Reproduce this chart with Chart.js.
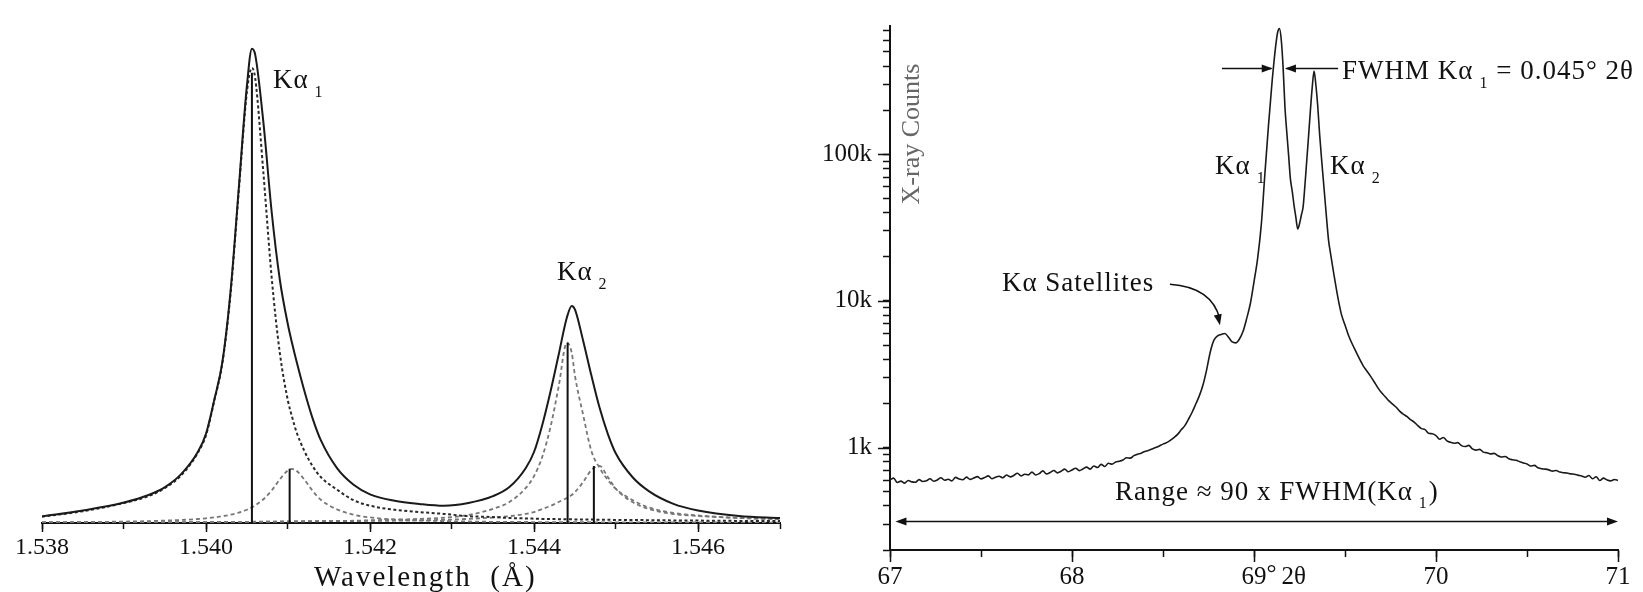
<!DOCTYPE html>
<html>
<head>
<meta charset="utf-8">
<title>Cu Kα emission profile and Kα doublet scan</title>
<script src="https://cdn.jsdelivr.net/npm/chart.js@4.4.1/dist/chart.umd.min.js"></script>
<style>
  html, body { margin: 0; padding: 0; background: #fff; }
  body { width: 1643px; height: 592px; position: relative; overflow: hidden; }
  canvas { position: absolute; top: 0; }
  #profile { left: 0; }
  #scan { left: 800px; }
</style>
</head>
<body>
<canvas id="profile" width="800" height="592"></canvas>
<canvas id="scan" width="843" height="592"></canvas>
<script>
// ---- left panel: emission profile vs wavelength (relative intensity, Ka11 = 100) ----
var wavelength = [1.5380, 1.5385, 1.5390, 1.5393, 1.5395, 1.5397, 1.5399, 1.5400, 1.5401, 1.5402,
    1.5403, 1.5404, 1.5405, 1.54056, 1.5406, 1.5407, 1.5408, 1.5409, 1.5410, 1.54105,
    1.5411, 1.5412, 1.5413, 1.5414, 1.5416, 1.5418, 1.5420, 1.5423, 1.5426, 1.5429,
    1.5432, 1.5435, 1.5437, 1.5439, 1.5440, 1.5441, 1.5442, 1.5443, 1.5444, 1.54446,
    1.5445, 1.5446, 1.5447, 1.5448, 1.5449, 1.5450, 1.5452, 1.5454, 1.5457, 1.5460,
    1.5465, 1.5470];
var totalProfile = [1.43, 2.75, 4.5, 6.15, 7.9, 10.8, 15.6, 19.6, 27.0, 35.4,
    51.0, 73.6, 96.3, 104.2, 102.9, 88.0, 68.5, 53.5, 43.5, 39.5,
    35.8, 29.0, 23.0, 18.2, 12.0, 8.4, 6.3, 4.9, 4.2, 3.8,
    4.4, 5.9, 7.9, 12.1, 15.6, 21.5, 28.8, 36.9, 45.1, 47.7,
    46.9, 40.0, 32.4, 25.3, 19.6, 15.2, 10.1, 7.0, 4.2, 2.75,
    1.54, 1.1];
var ka11 = [1.4, 2.6, 4.4, 5.9, 7.7, 10.5, 15.4, 19.3, 26.8, 35.2,
    50.5, 73.0, 94.9, 100, 97.7, 76.9, 54.1, 37.4, 26.8, 23.3,
    20.2, 15.8, 12.5, 10.1, 7.3, 5.0, 3.8, 2.9, 2.4, 2.0,
    1.5, 1.3, 1.1, 1.0, 0.95, 0.9, 0.88, 0.84, 0.81, 0.8,
    0.79, 0.77, 0.75, 0.73, 0.7, 0.68, 0.66, 0.62, 0.57, 0.53,
    0.46, 0.42];
var ka12 = [0.18, 0.22, 0.31, 0.42, 0.53, 0.66, 0.88, 1.03, 1.23, 1.49,
    1.82, 2.29, 2.92, 3.43, 3.85, 5.21, 7.12, 9.58, 11.58, 11.87,
    11.54, 9.52, 7.08, 5.10, 2.97, 1.82, 1.23, 0.77, 0.55, 0.42,
    0.33, 0.26, 0.24, 0.22, 0.21, 0.2, 0.19, 0.19, 0.18, 0.18,
    0.18, 0.16, 0.16, 0.15, 0.15, 0.15, 0.14, 0.13, 0.12, 0.11,
    0.1, 0.09];
var ka21 = [0.1, 0.12, 0.14, 0.15, 0.16, 0.17, 0.19, 0.2, 0.21, 0.22,
    0.23, 0.24, 0.25, 0.26, 0.26, 0.27, 0.28, 0.3, 0.31, 0.32,
    0.33, 0.35, 0.37, 0.39, 0.44, 0.5, 0.6, 0.75, 0.9, 1.15,
    1.75, 3.1, 4.6, 7.7, 10.3, 14.5, 21.0, 29.9, 39.6, 37.4,
    32.3, 23.7, 15.8, 12.1, 9.45, 7.47, 5.05, 3.41, 2.2, 1.65,
    1.1, 0.84];
var ka22 = [0.09, 0.11, 0.13, 0.15, 0.16, 0.18, 0.2, 0.21, 0.22, 0.23,
    0.24, 0.25, 0.26, 0.27, 0.29, 0.3, 0.31, 0.33, 0.34, 0.35,
    0.36, 0.38, 0.41, 0.43, 0.4, 0.42, 0.46, 0.5, 0.58, 0.7,
    0.9, 1.2, 1.5, 2.0, 2.4, 3.08, 3.74, 4.62, 5.49, 6.15,
    6.81, 9.01, 11.65, 12.53, 10.11, 7.47, 4.62, 3.08, 1.98, 1.54,
    1.1, 0.84];
var stickPos = [1.54056, 1.54102, 1.54441, 1.54473];
var stickHeight = [98.9, 11.9, 39.6, 12.5];
var wavelengthTicks = [1.538, 1.539, 1.540, 1.541, 1.542, 1.543, 1.544, 1.545, 1.546, 1.547];
var wavelengthLabels = ['1.538', '', '1.540', '', '1.542', '', '1.544', '', '1.546', ''];

// ---- right panel: measured scan, counts vs 2-theta ----
var twoTheta = [67.00, 67.02, 67.04, 67.06, 67.08, 67.10, 67.12, 67.14, 67.16, 67.18,
    67.20, 67.22, 67.24, 67.26, 67.28, 67.30, 67.32, 67.34, 67.36, 67.38,
    67.40, 67.42, 67.44, 67.46, 67.48, 67.50, 67.52, 67.54, 67.56, 67.58,
    67.60, 67.62, 67.64, 67.66, 67.68, 67.70, 67.72, 67.74, 67.76, 67.78,
    67.80, 67.82, 67.84, 67.86, 67.88, 67.90, 67.92, 67.94, 67.96, 67.98,
    68.00, 68.02, 68.04, 68.06, 68.08, 68.10, 68.12, 68.14, 68.16, 68.18,
    68.20, 68.22, 68.24, 68.26, 68.28, 68.30, 68.32, 68.34, 68.36, 68.38,
    68.40, 68.42, 68.44, 68.46, 68.48, 68.50, 68.52, 68.54, 68.56, 68.58,
    68.60, 68.62, 68.64, 68.66, 68.68, 68.70, 68.72, 68.74, 68.76, 68.78,
    68.80, 68.82, 68.84, 68.86, 68.88, 68.90, 68.92, 68.94, 68.96, 68.98,
    69.00, 69.02, 69.04, 69.06, 69.08, 69.10, 69.11, 69.12, 69.13, 69.14,
    69.15, 69.16, 69.17, 69.18, 69.19, 69.20, 69.21, 69.22, 69.23, 69.24,
    69.25, 69.26, 69.27, 69.28, 69.29, 69.30, 69.31, 69.32, 69.33, 69.34,
    69.35, 69.36, 69.37, 69.38, 69.39, 69.40, 69.41, 69.42, 69.44, 69.46,
    69.48, 69.50, 69.52, 69.55,
    69.60, 69.62, 69.64, 69.66, 69.68, 69.70, 69.72, 69.74, 69.76, 69.78,
    69.80, 69.82, 69.84, 69.86, 69.88, 69.90, 69.92, 69.94, 69.96, 69.98,
    70.00, 70.02, 70.04, 70.06, 70.08, 70.10, 70.12, 70.14, 70.16, 70.18,
    70.20, 70.22, 70.24, 70.26, 70.28, 70.30, 70.32, 70.34, 70.36, 70.38,
    70.40, 70.42, 70.44, 70.46, 70.48, 70.50, 70.52, 70.54, 70.56, 70.58,
    70.60, 70.62, 70.64, 70.66, 70.68, 70.70, 70.72, 70.74, 70.76, 70.78,
    70.80, 70.82, 70.84, 70.86, 70.88, 70.90, 70.92, 70.94, 70.96, 70.98,
    71.00];
var counts = [603, 618, 578, 590, 572, 596, 583, 580, 604, 586,
    593, 612, 589, 601, 622, 598, 607, 592, 626, 610,
    603, 628, 606, 619, 633, 611, 624, 641, 612, 628,
    637, 622, 650, 631, 644, 668, 640, 657, 651, 679,
    650, 664, 693, 661, 676, 697, 672, 689, 712, 684,
    703, 722, 696, 714, 735, 712, 748, 730, 768, 742,
    782, 770, 797, 806, 822, 851, 846, 880, 901, 915,
    940, 955, 978, 1000, 1025, 1055, 1080, 1118, 1170, 1230,
    1320, 1410, 1560, 1740, 1980, 2260, 2680, 3400, 4500, 5400,
    5780, 5900, 6000, 5650, 5250, 5170, 5500, 6200, 7600, 9600,
    13500, 19500, 33000, 74000, 160000, 320000, 430000, 560000, 680000, 720000,
    600000, 390000, 210000, 142000, 99000, 68000, 56000, 44900, 37200, 31000,
    33600, 38400, 44000, 62000, 91000, 134000, 200000, 287000, 370000, 297000,
    215000, 140000, 97000, 69000, 49200, 35000, 25700, 21300, 14900, 10700,
    8130, 6850, 5780, 4780,
    3610, 3330, 3070, 2810, 2560, 2370, 2230, 2090, 1985, 1890,
    1770, 1690, 1630, 1550, 1490, 1410, 1345, 1325, 1250, 1240,
    1205, 1140, 1170, 1110, 1085, 1070, 1080, 1030, 1015, 1035,
    978, 960, 972, 930, 921, 905, 912, 878, 862, 869,
    838, 825, 818, 800, 785, 772, 748, 755, 728, 716,
    712, 704, 690, 697, 680, 673, 670, 661, 657, 648,
    640, 627, 645, 612, 632, 596, 618, 600, 592, 605,
    597];
var thetaTicks = [67, 67.5, 68, 68.5, 69, 69.5, 70, 70.5, 71];
var thetaLabels = ['67', '', '68', '', '69', '', '70', '', '71'];
var countTicks = [200, 300, 400, 500, 600, 700, 800, 900,
    1000, 2000, 3000, 4000, 5000, 6000, 7000, 8000, 9000,
    10000, 20000, 30000, 40000, 50000, 60000, 70000, 80000, 90000,
    100000, 200000, 300000, 400000, 500000, 600000, 700000];
var countMajorTicks = [1000, 10000, 100000];
var countMajorLabels = ['1k', '10k', '100k'];

var SERIF = '"Liberation Serif", "Times New Roman", "DejaVu Serif", serif';
var INK = '#111';

Chart.defaults.font.family = SERIF;
Chart.defaults.color = INK;

function fontOf(size) {
    return size + 'px ' + SERIF;
}

function points(xs, ys) {
    return xs.map(function (x, i) {
        return { x: x, y: ys[i] };
    });
}

// K-alpha with a subscript index; returns x of the end of the text
function drawKalpha(ctx, x, y, sub, size) {
    ctx.font = fontOf(size);
    ctx.textAlign = 'left';
    ctx.textBaseline = 'middle';
    ctx.fillText('Kα', x, y);
    var w = ctx.measureText('Kα').width;
    var sx = x + w + size * 0.22;
    ctx.font = fontOf(Math.round(size * 0.6));
    ctx.fillText(sub, sx, y + size * 0.42);
    return sx + ctx.measureText(sub).width;
}

function arrowHead(ctx, x, y, angle, len, half) {
    var c = Math.cos(angle), s = Math.sin(angle);
    ctx.beginPath();
    ctx.moveTo(x, y);
    ctx.lineTo(x - len * c + half * s, y - len * s - half * c);
    ctx.lineTo(x - len * c - half * s, y - len * s + half * c);
    ctx.closePath();
    ctx.fill();
}

// longer tick marks for the labelled values
var majorTicks = {
    id: 'majorTicks',
    afterDraw: function (chart, args, opts) {
        var ctx = chart.ctx;
        var area = chart.chartArea;
        ctx.save();
        ctx.strokeStyle = INK;
        ctx.lineWidth = 1.5;
        (opts.x || []).forEach(function (v) {
            var px = Math.round(chart.scales.x.getPixelForValue(v)) + 0.5;
            ctx.beginPath();
            ctx.moveTo(px, area.bottom);
            ctx.lineTo(px, area.bottom + opts.length);
            ctx.stroke();
        });
        (opts.y || []).forEach(function (v) {
            var py = Math.round(chart.scales.y.getPixelForValue(v)) + 0.5;
            ctx.beginPath();
            ctx.moveTo(area.left - opts.length, py);
            ctx.lineTo(area.left, py);
            ctx.stroke();
        });
        ctx.restore();
    }
};

var profileNotes = {
    id: 'profileNotes',
    afterDraw: function (chart) {
        var ctx = chart.ctx;
        var xs = chart.scales.x, ys = chart.scales.y;
        var area = chart.chartArea;
        ctx.save();
        ctx.fillStyle = INK;
        ctx.letterSpacing = '1px';
        drawKalpha(ctx, xs.getPixelForValue(1.540817), ys.getPixelForValue(97.1), '1', 27);
        drawKalpha(ctx, xs.getPixelForValue(1.544280), ys.getPixelForValue(54.9), '2', 27);
        ctx.letterSpacing = '2px';
        ctx.font = fontOf(29);
        ctx.textAlign = 'left';
        ctx.textBaseline = 'middle';
        ctx.fillText('Wavelength  (Å)', area.left + 272, area.bottom + 55);
        ctx.restore();
    }
};

var scanNotes = {
    id: 'scanNotes',
    afterDraw: function (chart) {
        var ctx = chart.ctx;
        var xs = chart.scales.x, ys = chart.scales.y;
        var area = chart.chartArea;
        function px(v) { return xs.getPixelForValue(v); }
        function py(v) { return ys.getPixelForValue(v); }
        ctx.save();
        ctx.fillStyle = INK;
        ctx.strokeStyle = INK;
        ctx.lineWidth = 1.6;

        // FWHM arrows and label
        var fy = Math.round(py(390000)) + 0.5;
        ctx.beginPath();
        ctx.moveTo(px(68.824), fy);
        ctx.lineTo(px(69.095), fy);
        ctx.moveTo(px(69.178), fy);
        ctx.lineTo(px(69.462), fy);
        ctx.stroke();
        arrowHead(ctx, px(69.103), fy, 0, 11, 4);
        arrowHead(ctx, px(69.170), fy, Math.PI, 11, 4);

        ctx.letterSpacing = '1px';
        var tx = px(69.484), ty = py(363000);
        ctx.font = fontOf(27);
        ctx.textAlign = 'left';
        ctx.textBaseline = 'middle';
        ctx.fillText('FWHM', tx, ty);
        tx += ctx.measureText('FWHM ').width;
        tx = drawKalpha(ctx, tx, ty, '1', 27);
        ctx.font = fontOf(27);
        ctx.fillText(' = 0.045° 2θ', tx, ty);

        drawKalpha(ctx, px(68.786), py(81900), '1', 27);
        drawKalpha(ctx, px(69.418), py(81900), '2', 27);

        // satellites label and curved arrow
        ctx.font = fontOf(27);
        ctx.fillText('Kα Satellites', px(67.615), py(12980));
        var sx = px(68.538), sy = py(12980);
        var cx = px(68.770), cy = py(12400);
        var ex = px(68.813), ey = py(6810);
        ctx.beginPath();
        ctx.moveTo(sx, sy);
        ctx.quadraticCurveTo(cx, cy, ex, ey - 6);
        ctx.stroke();
        arrowHead(ctx, ex, ey, Math.atan2(ey - cy, ex - cx), 11, 4);

        // range arrow and label
        var ry = Math.round(py(316)) + 0.5;
        ctx.beginPath();
        ctx.moveTo(px(67.03) + 6, ry);
        ctx.lineTo(px(71.0) - 6, ry);
        ctx.stroke();
        arrowHead(ctx, px(67.03), ry, Math.PI, 11, 4);
        arrowHead(ctx, px(71.0), ry, 0, 11, 4);

        var rx = px(68.236), rly = py(494);
        ctx.font = fontOf(27);
        ctx.fillText('Range ≈ 90 x FWHM(', rx, rly);
        rx += ctx.measureText('Range ≈ 90 x FWHM(').width;
        rx = drawKalpha(ctx, rx, rly, '1', 27);
        ctx.font = fontOf(27);
        ctx.fillText(')', rx + 1, rly);

        // degree / 2-theta suffix after the 69 tick label
        ctx.letterSpacing = '0px';
        ctx.font = fontOf(25);
        var lx = px(69) + ctx.measureText('69').width / 2;
        ctx.fillText('°', lx, area.bottom + 24);
        ctx.fillText('2θ', lx + 15, area.bottom + 27);

        // y-axis caption inside the plot
        ctx.fillStyle = '#666';
        ctx.font = fontOf(26);
        ctx.textAlign = 'center';
        ctx.translate(area.left + 22, area.top + 108);
        ctx.rotate(-Math.PI / 2);
        ctx.fillText('X-ray Counts', 0, 0);
        ctx.restore();
    }
};

function tickSetter(values) {
    return function (scale) {
        scale.ticks = values.map(function (v) {
            return { value: v };
        });
    };
}

var profileDatasets = [
    { label: 'Total', data: points(wavelength, totalProfile), borderColor: '#1a1a1a', borderWidth: 2 },
    { label: 'Lines', data: stickPos.reduce(function (acc, x, i) {
        acc.push({ x: x, y: 0 }, { x: x, y: stickHeight[i] }, { x: x, y: null });
        return acc;
    }, []), borderColor: INK, borderWidth: 2, cubicInterpolationMode: 'default', tension: 0 },
    { label: 'Ka11', data: points(wavelength, ka11), borderColor: '#2a2a2a', borderWidth: 2, borderDash: [3, 2.5] },
    { label: 'Ka12', data: points(wavelength, ka12), borderColor: '#777', borderWidth: 1.8, borderDash: [4, 3] },
    { label: 'Ka21', data: points(wavelength, ka21), borderColor: '#777', borderWidth: 1.8, borderDash: [4, 3] },
    { label: 'Ka22', data: points(wavelength, ka22), borderColor: '#777', borderWidth: 1.8, borderDash: [4, 3] }
];

new Chart(document.getElementById('profile'), {
    type: 'line',
    data: { datasets: profileDatasets },
    plugins: [majorTicks, profileNotes],
    options: {
        responsive: false,
        animation: false,
        events: [],
        layout: { padding: { top: 36, left: 42, right: 20, bottom: 0 } },
        elements: {
            point: { radius: 0 },
            line: { cubicInterpolationMode: 'monotone', fill: false }
        },
        plugins: {
            legend: { display: false },
            tooltip: { enabled: false },
            majorTicks: { x: [1.538, 1.540, 1.542, 1.544, 1.546], length: 9 }
        },
        scales: {
            x: {
                type: 'linear',
                min: 1.538,
                max: 1.547,
                afterBuildTicks: tickSetter(wavelengthTicks),
                afterFit: function (scale) { scale.height = 69; },
                grid: { drawOnChartArea: false, tickLength: 6, tickWidth: 1.5, tickColor: INK },
                border: { display: true, color: INK, width: 2 },
                ticks: {
                    autoSkip: false,
                    maxRotation: 0,
                    padding: 4,
                    font: { size: 24 },
                    color: INK,
                    callback: function (value, index) {
                        return wavelengthLabels[index];
                    }
                }
            },
            y: {
                type: 'linear',
                display: false,
                min: 0,
                max: 107
            }
        }
    }
});

new Chart(document.getElementById('scan'), {
    type: 'line',
    data: {
        datasets: [{
            label: 'Counts',
            data: points(twoTheta, counts),
            borderColor: '#1a1a1a',
            borderWidth: 1.6
        }]
    },
    plugins: [majorTicks, scanNotes],
    options: {
        responsive: false,
        animation: false,
        events: [],
        layout: { padding: { top: 15, left: 0, right: 25, bottom: 0 } },
        elements: {
            point: { radius: 0 },
            line: { cubicInterpolationMode: 'monotone', fill: false }
        },
        plugins: {
            legend: { display: false },
            tooltip: { enabled: false },
            majorTicks: { x: [67, 68, 69, 70, 71], y: countMajorTicks, length: 12 }
        },
        scales: {
            x: {
                type: 'linear',
                min: 67,
                max: 71,
                afterBuildTicks: tickSetter(thetaTicks),
                afterFit: function (scale) { scale.height = 42; },
                grid: { drawOnChartArea: false, tickLength: 7, tickWidth: 1.5, tickColor: INK },
                border: { display: true, color: INK, width: 2 },
                ticks: {
                    autoSkip: false,
                    maxRotation: 0,
                    padding: 5,
                    font: { size: 25 },
                    color: INK,
                    callback: function (value, index) {
                        return thetaLabels[index];
                    }
                }
            },
            y: {
                type: 'logarithmic',
                min: 200,
                max: 750000,
                afterBuildTicks: tickSetter(countTicks),
                afterFit: function (scale) { scale.width = 90; },
                grid: { drawOnChartArea: false, tickLength: 7, tickWidth: 1.5, tickColor: INK },
                border: { display: true, color: INK, width: 2 },
                ticks: {
                    autoSkip: false,
                    padding: 11,
                    font: { size: 25 },
                    color: INK,
                    callback: function (value) {
                        var k = countMajorTicks.indexOf(value);
                        return k >= 0 ? countMajorLabels[k] : '';
                    }
                }
            }
        }
    }
});
</script>
</body>
</html>
